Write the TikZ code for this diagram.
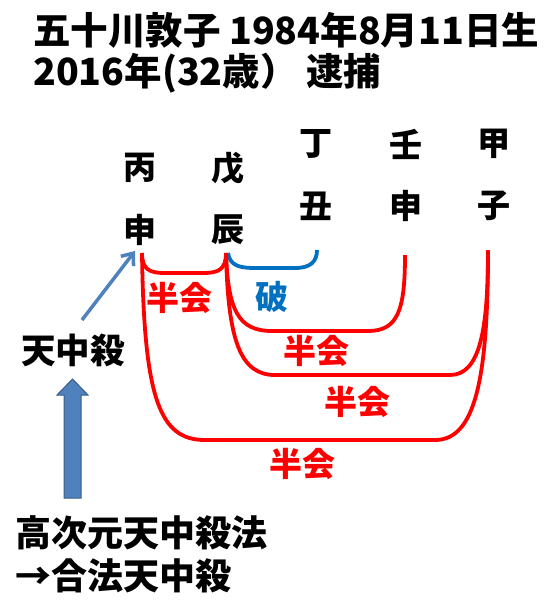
\documentclass[tikz,border=0pt]{standalone}
\usepackage{fontspec}
\setmainfont{Noto Sans CJK JP}[BoldFont={Noto Sans CJK JP Black}]
\usetikzlibrary{arrows.meta}
\definecolor{redc}{HTML}{FF0000}
\definecolor{bluec}{HTML}{0070C0}
\definecolor{arrc}{HTML}{4F81BD}
\definecolor{arrd}{HTML}{385D8A}
\tikzset{
  ch/.style={inner sep=0pt, font=\fontsize{33}{36}\selectfont\bfseries},
  ttl/.style={inner sep=0pt, anchor=base west, font=\fontsize{37.5}{40}\selectfont\bfseries},
  btm/.style={inner sep=0pt, anchor=base west, font=\fontsize{36}{40}\selectfont\bfseries},
  redlab/.style={inner sep=0pt, text=redc, font=\fontsize{33}{36}\selectfont\bfseries},
  bluelab/.style={inner sep=0pt, text=bluec, font=\fontsize{33}{36}\selectfont\bfseries},
  redbr/.style={draw=redc, line width=3.8pt},
  bluebr/.style={draw=bluec, line width=3.8pt},
}
\begin{document}
\begin{tikzpicture}[x=1pt,y=-1pt]
\useasboundingbox (0,0) rectangle (548,608);
% titles
\node[ttl] (t1) at (33,44) {五十川敦子 1984年8月11日生};
\node[ttl] (t2) at (33,85) {2016年(32歳） 逮捕};
% pillars
\node[ch] (bing) at (140,168) {丙};
\node[ch] (shenA) at (140,230) {申};
\node[ch] (wu) at (228,168) {戊};
\node[ch] (chen) at (228,230) {辰};
\node[ch] (ding) at (316,144) {丁};
\node[ch] (chou) at (316,206) {丑};
\node[ch] (ren) at (406,144) {壬};
\node[ch] (shenB) at (406,206) {申};
\node[ch] (jia) at (494,144) {甲};
\node[ch] (zi) at (494,206) {子};
% bracket end points
\coordinate (pA) at (142,253);
\coordinate (pC) at (226,253);
\coordinate (pC2) at (228,253);
\coordinate (pD) at (317,250);
\coordinate (pR) at (405,255);
\coordinate (pJ) at (488,250);
% brackets
\draw[redbr] (pA) .. controls (142,270) and (150,273) .. (165,273) -- (203,273) .. controls (218,273) and (226,270) .. (pC);
\draw[bluebr] (pC2) .. controls (230,266) and (240,268) .. (255,268) -- (295,268) .. controls (310,268) and (317,262) .. (pD);
\draw[redbr] (pC) .. controls (228,310) and (238,331) .. (272,331) -- (368,331) .. controls (398,331) and (405,310) .. (pR);
\draw[redbr] (pC) .. controls (228,340) and (240,375) .. (275,375) -- (450,375) .. controls (480,375) and (488,330) .. (pJ);
\draw[redbr] (pA) .. controls (144,400) and (160,440) .. (205,440) -- (435,440) .. controls (475,440) and (488,380) .. (pJ);
% labels
\node[redlab] (l1) at (179,298) {半会};
\node[bluelab] (l2) at (272,297) {破};
\node[redlab] (l3) at (316,351) {半会};
\node[redlab] (l4) at (357,402) {半会};
\node[redlab] (l5) at (302,464) {半会};
% tenchusatsu
\node[ch, font=\fontsize{34.5}{36}\selectfont\bfseries] (tcs) at (73,350) {天中殺};
\coordinate (aS) at (82,320);
\coordinate (aE) at (135,251);
\draw[draw=arrc, line width=3.5pt, -{Straight Barb[length=10pt,width=16pt,line width=3.5pt]}] (aS) -- (aE);
% block arrow
\filldraw[fill=arrc, draw=arrd, line width=1pt] (64,498) -- (64,395) -- (57,395) -- (72.5,379) -- (88,395) -- (81,395) -- (81,498) -- cycle;
% bottom text
\node[btm] (b1) at (15,546) {高次元天中殺法};
\node[btm] (b2) at (15,589) {→合法天中殺};
\end{tikzpicture}
\end{document}
